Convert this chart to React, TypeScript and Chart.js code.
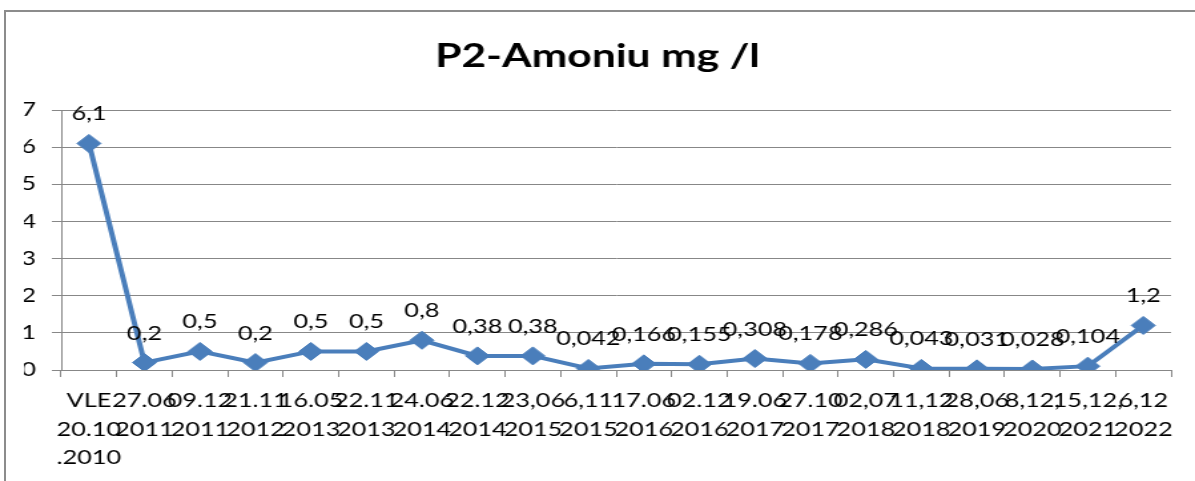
import React, { useEffect, useRef } from 'react';
import { Chart, registerables } from 'chart.js';

Chart.register(...registerables);

// ---- data ----
const chartTitle = 'P2-Amoniu mg /l';
const dateLines: string[][] = [
  ['VLE', '20.10', '.2010'],
  ['27.06', '2011'],
  ['09.12', '2011'],
  ['21.11', '2012'],
  ['16.05', '2013'],
  ['22.11', '2013'],
  ['24.06', '2014'],
  ['22.12', '2014'],
  ['23,06', '2015'],
  ['6,11', '2015'],
  ['17.06', '2016'],
  ['02.12', '2016'],
  ['19.06', '2017'],
  ['27.10', '2017'],
  ['02,07', '2018'],
  ['11,12', '2018'],
  ['28,06', '2019'],
  ['8,12,', '2020'],
  ['15,12,', '2021'],
  ['6,12', '2022'],
];
const amoniuValues = [
  6.1, 0.2, 0.5, 0.2, 0.5, 0.5, 0.8, 0.38, 0.38, 0.042, 0.166, 0.155, 0.308,
  0.178, 0.286, 0.043, 0.031, 0.028, 0.104, 1.2,
];
const yMin = 0;
const yMax = 7;
const yStep = 1;

// ---- presentation ----
const PAGE_W = 1195;
const PAGE_H = 481;
const SX = 1.33; // the reference is stretched horizontally
const W = Math.round(PAGE_W / SX);
const FONT = 'Lato, "Open Sans", sans-serif';
const BLUE = '#4A7EBB';
const GRID = '#878787';

const valueLabels = {
  id: 'valueLabels',
  afterDatasetsDraw(chart: any) {
    const ctx = chart.ctx;
    const meta = chart.getDatasetMeta(0);
    ctx.save();
    ctx.font = `19px ${FONT}`;
    ctx.fillStyle = '#000';
    ctx.textAlign = 'center';
    ctx.textBaseline = 'alphabetic';
    meta.data.forEach((pt: any, i: number) => {
      const v = chart.data.datasets[0].data[i];
      ctx.fillText(String(v).replace('.', ','), pt.x, pt.y - 23);
    });
    ctx.restore();
  },
};

export default function App() {
  const ref = useRef<HTMLCanvasElement | null>(null);

  useEffect(() => {
    if (!ref.current) return;
    const chart = new Chart(ref.current, {
      type: 'line',
      data: {
        labels: dateLines,
        datasets: [
          {
            data: amoniuValues,
            borderColor: BLUE,
            backgroundColor: BLUE,
            borderWidth: 4,
            pointStyle: 'rectRot',
            pointRadius: 9,
            pointBackgroundColor: BLUE,
            pointBorderColor: BLUE,
            pointBorderWidth: 1,
            tension: 0,
            fill: false,
          },
        ],
      },
      options: {
        animation: false,
        responsive: false,
        maintainAspectRatio: false,
        layout: { padding: { left: 18, right: 18, top: 0, bottom: 0 } },
        plugins: {
          legend: { display: false },
          tooltip: { enabled: false },
          title: {
            display: true,
            text: chartTitle,
            color: '#000',
            font: { family: FONT, size: 32, weight: 'bold', lineHeight: 1.2 },
            padding: { top: 37, bottom: 34.6 },
          },
        },
        scales: {
          x: {
            type: 'category',
            offset: true,
            grid: {
              display: true,
              offset: true,
              drawOnChartArea: false,
              drawTicks: true,
              tickLength: 7,
              color: GRID,
            },
            border: { display: true, color: GRID, width: 1 },
            ticks: {
              autoSkip: false,
              maxRotation: 0,
              minRotation: 0,
              color: '#000',
              padding: 10,
              font: { family: FONT, size: 19, lineHeight: 1.5 },
            },
            afterFit: (s: any) => {
              s.height = PAGE_H - 370;
            },
          },
          y: {
            min: yMin,
            max: yMax,
            grid: {
              display: true,
              drawOnChartArea: true,
              drawTicks: true,
              tickLength: 7,
              color: GRID,
            },
            border: { display: true, color: GRID, width: 1 },
            ticks: {
              stepSize: yStep,
              color: '#000',
              padding: 12,
              font: { family: FONT, size: 19 },
            },
            afterFit: (s: any) => {
              s.width = 28;
            },
          },
        },
      },
      plugins: [valueLabels],
    });
    return () => chart.destroy();
  }, []);

  return (
    <div
      style={{
        position: 'fixed',
        left: 0,
        top: 0,
        width: PAGE_W,
        height: PAGE_H,
        overflow: 'hidden',
        background: '#fff',
      }}
    >
      <div
        style={{
          position: 'absolute',
          left: 4,
          top: 10,
          right: 0,
          bottom: 0,
          borderLeft: '2px solid #8c8c8c',
          borderTop: '2px solid #8c8c8c',
        }}
      />
      <div
        style={{
          position: 'absolute',
          left: 0,
          top: 0,
          width: W,
          height: PAGE_H,
          transform: `scaleX(${PAGE_W / W})`,
          transformOrigin: '0 0',
        }}
      >
        <canvas
          ref={ref}
          width={W}
          height={PAGE_H}
          style={{ width: W, height: PAGE_H, display: 'block' }}
        />
      </div>
    </div>
  );
}
